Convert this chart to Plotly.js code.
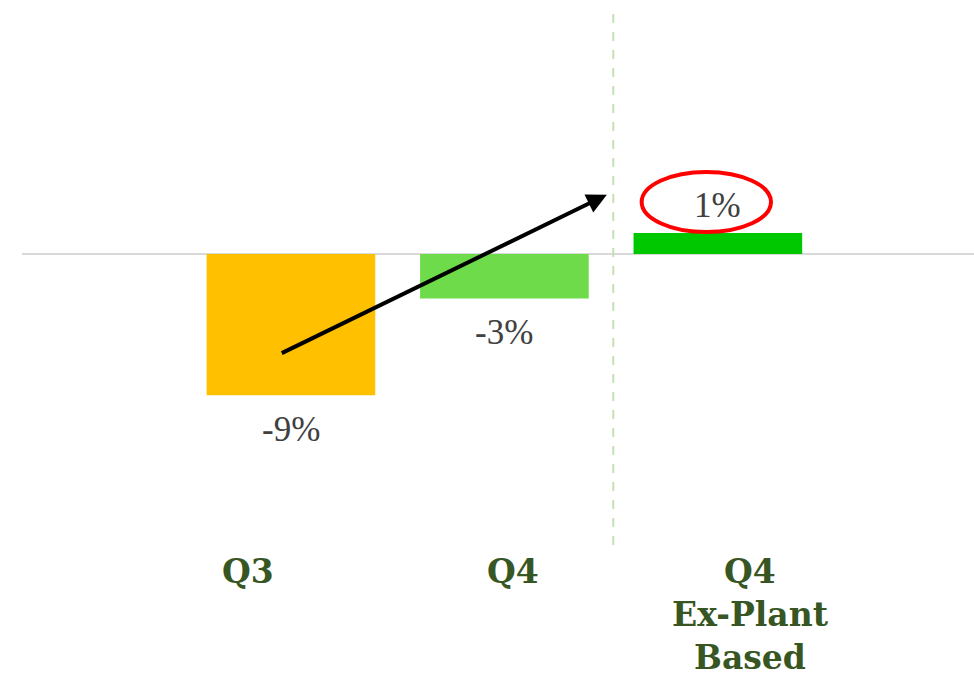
<!DOCTYPE html>
<html><head><meta charset="utf-8">
<script src="https://cdn.plot.ly/plotly-3.0.1.min.js"></script>
<style>html,body{margin:0;padding:0;background:#fff}#chart{width:974px;height:680px}</style>
</head><body><div id="chart"></div>
<script>
const categories = ["Q3", "Q4", "Q4 Ex-Plant Based"];
const tickLabels = ["Q3", "Q4", "Q4<br>Ex-Plant<br>Based"];
const values = [-9.05, -2.85, 1.35];
const valueLabels = ["-9%", "-3%", "1%"];
const barColors = ["#FFC000", "#6DDB4A", "#00C800"];

const xIdx = categories.map((c, i) => i);

const trace = {
  type: "bar",
  x: xIdx,
  y: values,
  width: 0.79,
  marker: {color: barColors},
  hoverinfo: "skip"
};

const annotations = values.map((v, i) => ({
  x: xIdx[i], y: v, xref: "x", yref: "y",
  text: valueLabels[i], showarrow: false,
  yshift: v < 0 ? -34 : 27,
  font: {family: "Liberation Serif, serif", size: 35, color: "#404040"}
}));

// category labels below the plot (offset like the reference)
const labelXShift = [-43, 9, 33];
tickLabels.forEach((t, i) => {
  annotations.push({
    x: xIdx[i], y: 0, xref: "x", yref: "paper",
    xanchor: "center", yanchor: "top", align: "center",
    xshift: labelXShift[i], yshift: -6,
    text: t, showarrow: false, borderpad: 0,
    font: {family: "DejaVu Serif, serif", size: 33, color: "#375623", weight: "bold"}
  });
});

// arrow from Q3 toward divider
annotations.push({
  x: 1.48, y: 3.8, ax: -0.05, ay: -6.4,
  xref: "x", yref: "y", axref: "x", ayref: "y",
  showarrow: true, arrowhead: 2, arrowsize: 1, arrowwidth: 4, arrowcolor: "#000",
  text: ""
});

const layout = {
  width: 974, height: 680,
  margin: {l: 22, r: 0, t: 8, b: 135},
  paper_bgcolor: "#fff", plot_bgcolor: "#fff",
  showlegend: false,
  xaxis: {
    range: [-1.26, 3.2],
    showticklabels: false,
    showgrid: false, zeroline: false, showline: false, ticks: "",
    fixedrange: true
  },
  yaxis: {
    range: [-18.65, 15.77],
    showgrid: false, showticklabels: false, ticks: "",
    zeroline: true, zerolinecolor: "#d9d9d9", zerolinewidth: 2,
    showline: false, fixedrange: true
  },
  shapes: [
    {type: "line", xref: "x", yref: "paper", x0: 1.51, x1: 1.51, y0: 0, y1: 1,
     line: {color: "#c5e0b4", width: 2, dash: "dash"}},
    {type: "circle", xref: "x", yref: "y", x0: 1.643, x1: 2.249, y0: 1.41, y1: 5.26,
     line: {color: "#ff0000", width: 4}}
  ],
  annotations: annotations
};

Plotly.newPlot("chart", [trace], layout, {displayModeBar: false, staticPlot: true});
</script></body></html>
